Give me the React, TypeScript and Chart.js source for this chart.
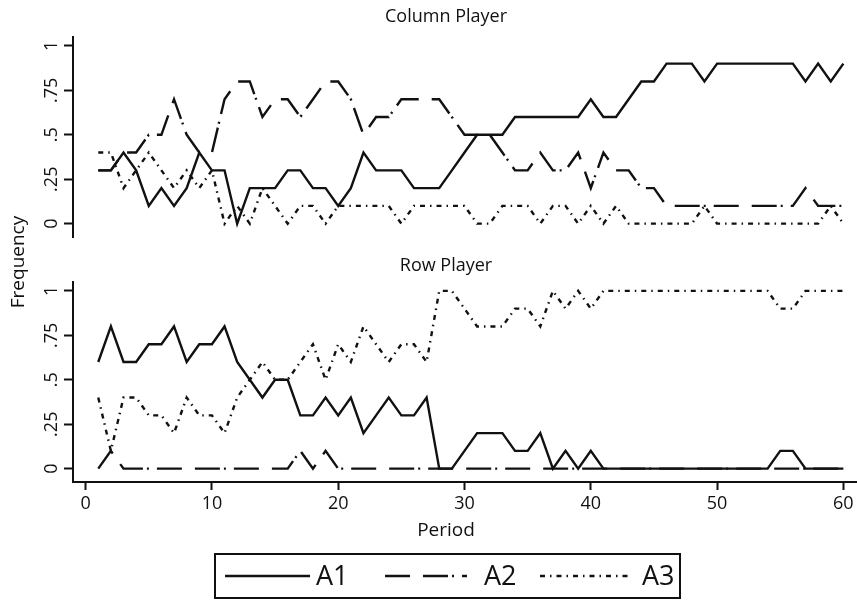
import React, { useEffect, useRef } from "react";
import { Chart, registerables } from "chart.js";

Chart.register(...registerables);

// ---------- data ----------
const periods = [
  1, 2, 3, 4, 5, 6, 7, 8, 9, 10, 11, 12, 13, 14, 15, 16, 17, 18, 19, 20,
  21, 22, 23, 24, 25, 26, 27, 28, 29, 30, 31, 32, 33, 34, 35, 36, 37, 38, 39, 40,
  41, 42, 43, 44, 45, 46, 47, 48, 49, 50, 51, 52, 53, 54, 55, 56, 57, 58, 59, 60,
];

const colA1 = [
  0.3, 0.3, 0.4, 0.3, 0.1, 0.2, 0.1, 0.2, 0.4, 0.3,
  0.3, 0.0, 0.2, 0.2, 0.2, 0.3, 0.3, 0.2, 0.2, 0.1,
  0.2, 0.4, 0.3, 0.3, 0.3, 0.2, 0.2, 0.2, 0.3, 0.4,
  0.5, 0.5, 0.5, 0.6, 0.6, 0.6, 0.6, 0.6, 0.6, 0.7,
  0.6, 0.6, 0.7, 0.8, 0.8, 0.9, 0.9, 0.9, 0.8, 0.9,
  0.9, 0.9, 0.9, 0.9, 0.9, 0.9, 0.8, 0.9, 0.8, 0.9,
];
const colA2 = [
  0.3, 0.3, 0.4, 0.4, 0.5, 0.5, 0.7, 0.5, 0.4, 0.4,
  0.7, 0.8, 0.8, 0.6, 0.7, 0.7, 0.6, 0.7, 0.8, 0.8,
  0.7, 0.5, 0.6, 0.6, 0.7, 0.7, 0.7, 0.7, 0.6, 0.5,
  0.5, 0.5, 0.4, 0.3, 0.3, 0.4, 0.3, 0.3, 0.4, 0.2,
  0.4, 0.3, 0.3, 0.2, 0.2, 0.1, 0.1, 0.1, 0.1, 0.1,
  0.1, 0.1, 0.1, 0.1, 0.1, 0.1, 0.2, 0.1, 0.1, 0.1,
];
const colA3 = [
  0.4, 0.4, 0.2, 0.3, 0.4, 0.3, 0.2, 0.3, 0.2, 0.3,
  0.0, 0.1, 0.0, 0.2, 0.1, 0.0, 0.1, 0.1, 0.0, 0.1,
  0.1, 0.1, 0.1, 0.1, 0.0, 0.1, 0.1, 0.1, 0.1, 0.1,
  0.0, 0.0, 0.1, 0.1, 0.1, 0.0, 0.1, 0.1, 0.0, 0.1,
  0.0, 0.1, 0.0, 0.0, 0.0, 0.0, 0.0, 0.0, 0.1, 0.0,
  0.0, 0.0, 0.0, 0.0, 0.0, 0.0, 0.0, 0.0, 0.1, 0.0,
];

const rowA1 = [
  0.6, 0.8, 0.6, 0.6, 0.7, 0.7, 0.8, 0.6, 0.7, 0.7,
  0.8, 0.6, 0.5, 0.4, 0.5, 0.5, 0.3, 0.3, 0.4, 0.3,
  0.4, 0.2, 0.3, 0.4, 0.3, 0.3, 0.4, 0.0, 0.0, 0.1,
  0.2, 0.2, 0.2, 0.1, 0.1, 0.2, 0.0, 0.1, 0.0, 0.1,
  0.0, 0.0, 0.0, 0.0, 0.0, 0.0, 0.0, 0.0, 0.0, 0.0,
  0.0, 0.0, 0.0, 0.0, 0.1, 0.1, 0.0, 0.0, 0.0, 0.0,
];
const rowA2 = [
  0.0, 0.1, 0.0, 0.0, 0.0, 0.0, 0.0, 0.0, 0.0, 0.0,
  0.0, 0.0, 0.0, 0.0, 0.0, 0.0, 0.1, 0.0, 0.1, 0.0,
  0.0, 0.0, 0.0, 0.0, 0.0, 0.0, 0.0, 0.0, 0.0, 0.0,
  0.0, 0.0, 0.0, 0.0, 0.0, 0.0, 0.0, 0.0, 0.0, 0.0,
  0.0, 0.0, 0.0, 0.0, 0.0, 0.0, 0.0, 0.0, 0.0, 0.0,
  0.0, 0.0, 0.0, 0.0, 0.0, 0.0, 0.0, 0.0, 0.0, 0.0,
];
const rowA3 = [
  0.4, 0.1, 0.4, 0.4, 0.3, 0.3, 0.2, 0.4, 0.3, 0.3,
  0.2, 0.4, 0.5, 0.6, 0.5, 0.5, 0.6, 0.7, 0.5, 0.7,
  0.6, 0.8, 0.7, 0.6, 0.7, 0.7, 0.6, 1.0, 1.0, 0.9,
  0.8, 0.8, 0.8, 0.9, 0.9, 0.8, 1.0, 0.9, 1.0, 0.9,
  1.0, 1.0, 1.0, 1.0, 1.0, 1.0, 1.0, 1.0, 1.0, 1.0,
  1.0, 1.0, 1.0, 1.0, 0.9, 0.9, 1.0, 1.0, 1.0, 1.0,
];

const seriesNames = ["A1", "A2", "A3"];
const panelTitles = ["Column Player", "Row Player"];
const xTicks = [0, 10, 20, 30, 40, 50, 60];
const yTicks = [0, 0.25, 0.5, 0.75, 1];
const yTickLabels = ["0", ".25", ".5", ".75", "1"];
const xTitle = "Period";
const yTitle = "Frequency";

// ---------- styles / layout ----------
const W = 857;
const H = 601;
const FONT = '"Open Sans", "DejaVu Sans", sans-serif';
const INK = "#111";
const DASHES: number[][] = [[], [25, 13, 25, 4, 2, 8], [5, 5, 1.5, 5]];
const X_MIN = -1;
const X_MAX = 61;
const Y_MIN = -0.075;
const Y_MAX = 1.05;
const AXIS_LEFT = 73;
const TOP_AREA = { top: 37, bottom: 237 };
const BOT_AREA = { top: 282, bottom: 482 };
const X_SCALE_H = 40;
const CENTER_X = 446;

function makeDatasets(values: number[][]) {
  return values.map((vals, i) => ({
    label: seriesNames[i],
    data: vals.map((v, j) => ({ x: periods[j], y: v })),
    borderColor: INK,
    borderWidth: 2.4,
    borderDash: DASHES[i],
    borderCapStyle: "butt" as const,
    borderJoinStyle: "miter" as const,
    pointRadius: 0,
    tension: 0,
    fill: false,
  }));
}

function yScale() {
  return {
    type: "linear" as const,
    min: Y_MIN,
    max: Y_MAX,
    afterFit: (s: any) => {
      s.width = AXIS_LEFT;
    },
    afterBuildTicks: (s: any) => {
      s.ticks = yTicks.map((v) => ({ value: v }));
    },
    ticks: { display: false },
    grid: {
      drawOnChartArea: false,
      drawTicks: true,
      tickLength: 9,
      tickColor: INK,
      tickWidth: 2,
    },
    border: { display: true, color: INK, width: 2 },
  };
}

function drawYTickLabels(chart: any) {
  const ctx = chart.ctx;
  const y = chart.scales.y;
  ctx.save();
  ctx.fillStyle = INK;
  ctx.font = `18px ${FONT}`;
  yTicks.forEach((v, i) => {
    const py = y.getPixelForValue(v);
    ctx.save();
    ctx.translate(57, py);
    ctx.rotate(-Math.PI / 2);
    ctx.textAlign = "center";
    ctx.textBaseline = "alphabetic";
    ctx.fillText(yTickLabels[i], 0, 0);
    ctx.restore();
  });
  ctx.restore();
}

function drawTitle(chart: any, text: string, y: number) {
  const ctx = chart.ctx;
  ctx.save();
  ctx.fillStyle = INK;
  ctx.font = `18px ${FONT}`;
  ctx.textAlign = "center";
  ctx.textBaseline = "middle";
  ctx.fillText(text, CENTER_X, y);
  ctx.restore();
}

const topPlugin = {
  id: "topTexts",
  afterDraw(chart: any) {
    drawTitle(chart, panelTitles[0], 17);
    drawYTickLabels(chart);
  },
};

const bottomPlugin = {
  id: "bottomTexts",
  afterDraw(chart: any) {
    const ctx = chart.ctx;
    drawTitle(chart, panelTitles[1], 266);
    drawYTickLabels(chart);

    // axis titles
    ctx.save();
    ctx.fillStyle = INK;
    ctx.font = `19px ${FONT}`;
    ctx.textAlign = "center";
    ctx.textBaseline = "middle";
    ctx.fillText(xTitle, CENTER_X, 531);
    ctx.translate(19, 262);
    ctx.rotate(-Math.PI / 2);
    ctx.fillText(yTitle, 0, 0);
    ctx.restore();

    // legend
    const box = { left: 215, top: 554, width: 465, height: 44 };
    const lineX = [
      [225, 310],
      [385, 467],
      [540, 630],
    ];
    const textX = [316, 484, 642];
    const midY = box.top + box.height / 2;
    ctx.save();
    ctx.strokeStyle = INK;
    ctx.lineWidth = 2;
    ctx.strokeRect(box.left, box.top, box.width, box.height);
    chart.data.datasets.forEach((ds: any, i: number) => {
      ctx.save();
      ctx.lineWidth = ds.borderWidth;
      ctx.setLineDash(ds.borderDash || []);
      ctx.lineCap = "butt";
      ctx.beginPath();
      ctx.moveTo(lineX[i][0], midY);
      ctx.lineTo(lineX[i][1], midY);
      ctx.stroke();
      ctx.restore();
      ctx.fillStyle = INK;
      ctx.font = `27px ${FONT}`;
      ctx.textAlign = "left";
      ctx.textBaseline = "middle";
      ctx.fillText(ds.label, textX[i], midY + 1);
    });
    ctx.restore();
  },
};

export default function App() {
  const topRef = useRef<HTMLCanvasElement>(null);
  const botRef = useRef<HTMLCanvasElement>(null);

  useEffect(() => {
    document.body.style.margin = "0";
    const top = new Chart(topRef.current as HTMLCanvasElement, {
      type: "line",
      data: { datasets: makeDatasets([colA1, colA2, colA3]) as any },
      options: {
        responsive: false,
        animation: false,
        devicePixelRatio: 1,
        layout: {
          padding: { top: TOP_AREA.top, right: 1, bottom: H - TOP_AREA.bottom, left: 0 },
        },
        plugins: {
          legend: { display: false },
          tooltip: { enabled: false },
          title: { display: false },
        },
        scales: {
          x: { type: "linear", min: X_MIN, max: X_MAX, display: false },
          y: yScale() as any,
        },
      },
      plugins: [topPlugin],
    });

    const bot = new Chart(botRef.current as HTMLCanvasElement, {
      type: "line",
      data: { datasets: makeDatasets([rowA1, rowA2, rowA3]) as any },
      options: {
        responsive: false,
        animation: false,
        devicePixelRatio: 1,
        layout: {
          padding: {
            top: BOT_AREA.top,
            right: 1,
            bottom: H - BOT_AREA.bottom - X_SCALE_H,
            left: 0,
          },
        },
        plugins: {
          legend: { display: false },
          tooltip: { enabled: false },
          title: { display: false },
        },
        scales: {
          x: {
            type: "linear",
            min: X_MIN,
            max: X_MAX,
            afterBuildTicks: (s: any) => {
              s.ticks = xTicks.map((v) => ({ value: v }));
            },
            afterFit: (s: any) => {
              s.height = X_SCALE_H;
            },
            ticks: {
              color: INK,
              font: { family: FONT, size: 18 },
              padding: 3,
              maxRotation: 0,
              autoSkip: false,
            },
            grid: {
              drawOnChartArea: false,
              drawTicks: true,
              tickLength: 8,
              tickColor: INK,
              tickWidth: 2,
            },
            border: { display: true, color: INK, width: 2 },
          } as any,
          y: yScale() as any,
        },
      },
      plugins: [bottomPlugin],
    });

    return () => {
      top.destroy();
      bot.destroy();
    };
  }, []);

  return (
    <div style={{ position: "fixed", left: 0, top: 0, width: W, height: H, background: "#fff" }}>
      <canvas
        ref={botRef}
        width={W}
        height={H}
        style={{ position: "absolute", left: 0, top: 0, width: W, height: H }}
      />
      <canvas
        ref={topRef}
        width={W}
        height={H}
        style={{ position: "absolute", left: 0, top: 0, width: W, height: H }}
      />
    </div>
  );
}
